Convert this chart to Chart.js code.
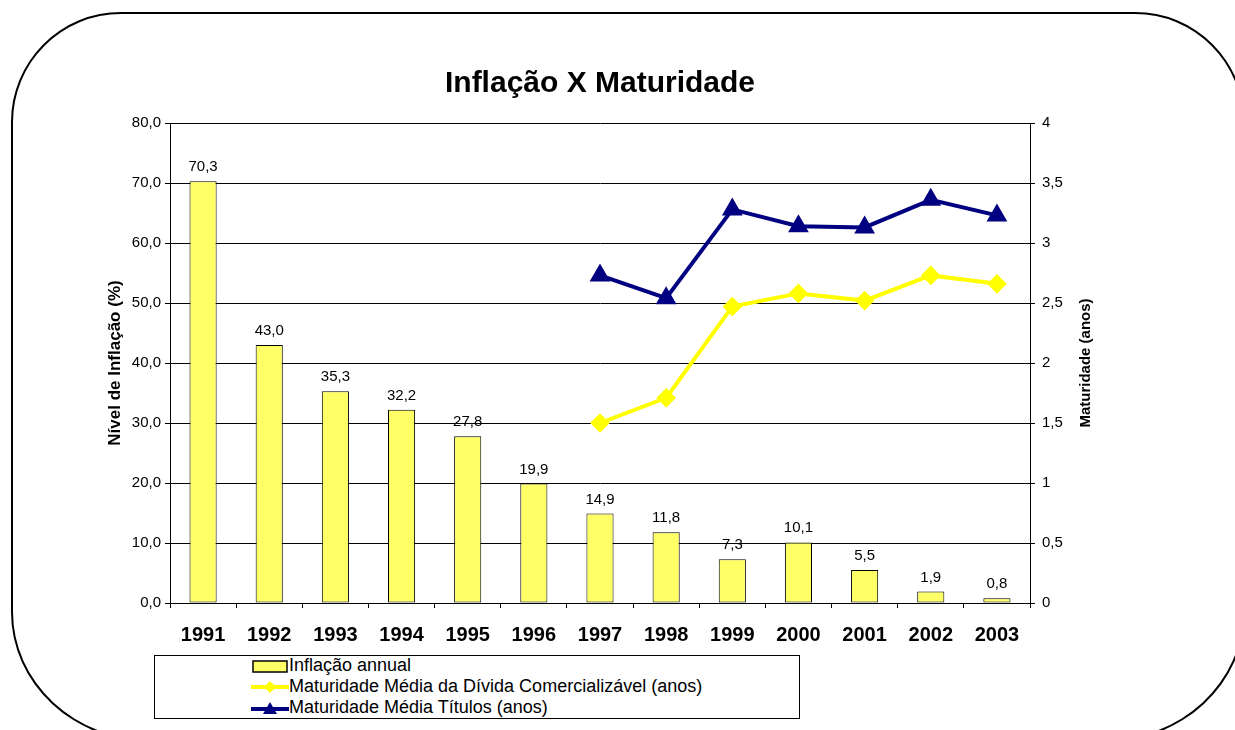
<!DOCTYPE html>
<html>
<head>
<meta charset="utf-8">
<script src="https://cdn.jsdelivr.net/npm/chart.js@4.4.1/dist/chart.umd.min.js"></script>
<style>
    body { margin: 0; background: #fff; font-family: "Liberation Sans", Arial, sans-serif; }
    #wrap { position: relative; width: 1235px; height: 730px; overflow: hidden; }
    #frame {
        position: absolute; left: 11px; top: 12px; width: 1230px; height: 726px;
        border: 2px solid #000;
        border-radius: 110px 110px 140px 140px / 110px 110px 130px 130px;
    }
    #chart { position: absolute; left: 0; top: 0; }
    #legend {
        position: absolute; left: 154px; top: 655px; width: 644px; height: 62px;
        border: 1px solid #000; background: #fff;
        font-size: 18px; line-height: 21px; color: #000;
    }
    #legend .item { position: absolute; left: 96px; white-space: nowrap; }
    #legend svg { position: absolute; left: 0; top: 2px; }
    #legend span { position: absolute; left: 38px; top: 0; }
</style>
</head>
<body>
<div id="wrap">
    <div id="frame"></div>
    <canvas id="chart" width="1235" height="730"></canvas>
    <div id="legend"></div>
</div>
<script>
// dados
const anos = ['1991', '1992', '1993', '1994', '1995', '1996', '1997', '1998', '1999', '2000', '2001', '2002', '2003'];
const inflacao = [70.3, 43.0, 35.3, 32.2, 27.8, 19.9, 14.9, 11.8, 7.3, 10.1, 5.5, 1.9, 0.8];
const maturidadeDivida = [null, null, null, null, null, null, 1.5, 1.71, 2.47, 2.58, 2.52, 2.73, 2.66];
const maturidadeTitulos = [null, null, null, null, null, null, 2.73, 2.54, 3.28, 3.14, 3.13, 3.36, 3.23];
const nomes = ['Inflação annual', 'Maturidade Média da Dívida Comercializável (anos)', 'Maturidade Média Títulos (anos)'];

const FONTE = "'Liberation Sans', Arial, sans-serif";
const virgula = v => String(v).replace('.', ',');

// rótulos acima das barras
const rotulos = {
    id: 'rotulos',
    afterDatasetsDraw(chart) {
        const ctx = chart.ctx;
        const meta = chart.getDatasetMeta(2); // dataset das barras
        ctx.save();
        ctx.font = '15px ' + FONTE;
        ctx.fillStyle = '#000';
        ctx.textAlign = 'center';
        ctx.textBaseline = 'alphabetic';
        meta.data.forEach((bar, i) => {
            ctx.fillText(inflacao[i].toFixed(1).replace('.', ','), bar.x, bar.y - 10);
        });
        ctx.restore();
    }
};

// títulos dos eixos (ambos rotacionados de baixo para cima)
const titulosEixos = {
    id: 'titulosEixos',
    afterDraw(chart) {
        const ctx = chart.ctx;
        const area = chart.chartArea;
        const meio = (area.top + area.bottom) / 2;
        ctx.save();
        ctx.fillStyle = '#000';
        ctx.textAlign = 'center';
        ctx.textBaseline = 'middle';
        [[115, 17, 'Nível de Inflação (%)'], [1086, 15, 'Maturidade (anos)']].forEach(([x, tam, t]) => {
            ctx.save();
            ctx.font = 'bold ' + tam + 'px ' + FONTE;
            ctx.translate(x, meio);
            ctx.rotate(-Math.PI / 2);
            ctx.fillText(t, 0, 0);
            ctx.restore();
        });
        ctx.restore();
    }
};

const ctx = document.getElementById('chart').getContext('2d');

new Chart(ctx, {
    type: 'bar',
    data: {
        labels: anos,
        datasets: [
            {
                label: nomes[1],
                type: 'line',
                data: maturidadeDivida,
                borderColor: '#FFFF00',
                backgroundColor: '#FFFF00',
                borderWidth: 4,
                pointStyle: 'rectRot',
                pointRadius: 7,
                pointHoverRadius: 7,
                tension: 0,
                yAxisID: 'y1',
                order: 1
            },
            {
                label: nomes[2],
                type: 'line',
                data: maturidadeTitulos,
                borderColor: '#000080',
                backgroundColor: '#000080',
                borderWidth: 4,
                pointStyle: 'triangle',
                pointRadius: 8,
                pointHoverRadius: 8,
                tension: 0,
                yAxisID: 'y1',
                order: 0
            },
            {
                label: nomes[0],
                data: inflacao,
                backgroundColor: '#FFFF66',
                borderColor: '#000',
                borderWidth: 1,
                borderSkipped: false,
                barPercentage: 0.41,
                categoryPercentage: 1,
                yAxisID: 'y',
                order: 2
            }
        ]
    },
    options: {
        responsive: false,
        animation: false,
        layout: { padding: { left: 100, right: 135, top: 0, bottom: 82 } },
        plugins: {
            legend: { display: false },
            tooltip: { enabled: false },
            title: {
                display: true,
                text: 'Inflação X Maturidade',
                color: '#000',
                font: { family: FONTE, size: 30, weight: 'bold' },
                padding: { top: 66, bottom: 21 }
            }
        },
        scales: {
            x: {
                offset: true,
                grid: { display: true, offset: true, drawOnChartArea: false, color: '#000', tickLength: 5 },
                border: { display: true, color: '#000' },
                ticks: { color: '#000', font: { family: FONTE, size: 20, weight: 'bold' }, padding: 15, maxRotation: 0 },
                afterFit: s => { s.height = 45; }
            },
            y: {
                position: 'left',
                min: 0,
                max: 80,
                grid: { color: '#000', tickLength: 5 },
                border: { display: true, color: '#000' },
                ticks: {
                    stepSize: 10,
                    color: '#000',
                    font: { family: FONTE, size: 15 },
                    padding: 4,
                    callback: v => v.toFixed(1).replace('.', ',')
                },
                afterFit: s => { s.width = 70; }
            },
            y1: {
                position: 'right',
                min: 0,
                max: 4,
                grid: { drawOnChartArea: false, color: '#000', tickLength: 5 },
                border: { display: true, color: '#000' },
                ticks: {
                    stepSize: 0.5,
                    color: '#000',
                    font: { family: FONTE, size: 15 },
                    padding: 7,
                    callback: v => virgula(v)
                },
                afterFit: s => { s.width = 70; }
            }
        }
    },
    plugins: [rotulos, titulosEixos]
});

// legenda em HTML
const legenda = document.getElementById('legend');
const simbolos = [
    '<svg width="40" height="18"><rect x="2" y="4" width="34" height="11" fill="#FFFF66" stroke="#000" stroke-width="1.5"/></svg>',
    '<svg width="40" height="18"><line x1="0" y1="9" x2="38" y2="9" stroke="#FFFF00" stroke-width="4"/><polygon points="19,3 25,9 19,15 13,9" fill="#FFFF00"/></svg>',
    '<svg width="40" height="18"><line x1="0" y1="10" x2="38" y2="10" stroke="#000080" stroke-width="4"/><polygon points="19,3 26,15 12,15" fill="#000080"/></svg>'
];
nomes.forEach((nome, i) => {
    const item = document.createElement('div');
    item.className = 'item';
    item.style.top = (-1 + i * 21) + 'px';
    item.innerHTML = simbolos[i] + '<span>' + nome + '</span>';
    legenda.appendChild(item);
});
</script>
</body>
</html>
